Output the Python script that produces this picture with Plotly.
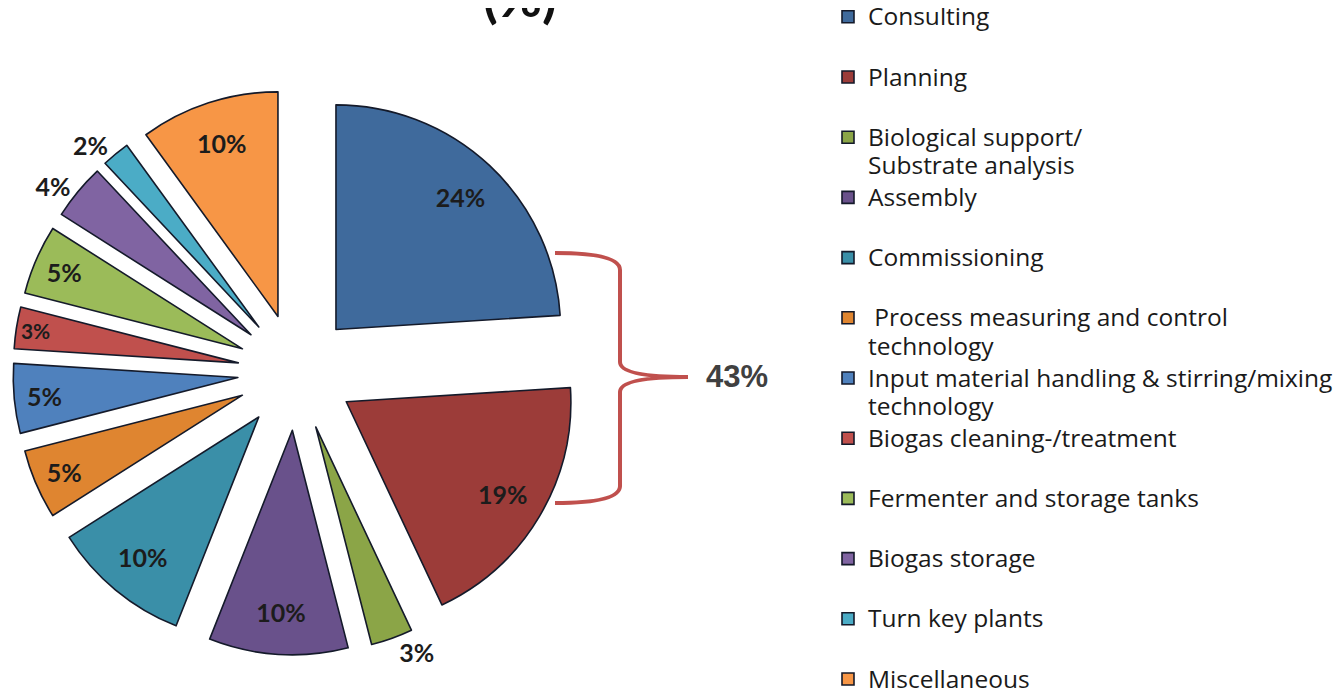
import plotly.graph_objects as go

# Datos del grafico
categorias = [
    "Consulting", "Planning", "Biological support/<br>Substrate analysis", "Assembly",
    "Commissioning", " Process measuring and control<br>technology",
    "Input material handling & stirring/mixing<br>technology",
    "Biogas cleaning-/treatment", "Fermenter and storage tanks", "Biogas storage",
    "Turn key plants", "Miscellaneous",
]
porcentajes = [24, 19, 3, 10, 10, 5, 5, 3, 5, 4, 2, 10]
colores = ["#3f6a9c", "#9c3c39", "#8ba547", "#69518b", "#3a8fa8", "#df8530",
           "#4f81bd", "#c0504d", "#9bbb59", "#8064a2", "#4bacc6", "#f79646"]
posicion_texto = ["inside", "inside", "outside", "inside", "inside", "inside",
                  "inside", "inside", "inside", "outside", "outside", "inside"]

W, H = 1342, 688
OFF = 8  # margen del body de la pagina


def fx(x):
    return (x - OFF) / W


def fy(y):
    return 1 - (y - OFF) / H


# leyenda: letra mas grande dentro de un span, el interlineado sigue al tamano base
def etiqueta(c, ultima):
    lineas = c.split("<br>")
    if len(lineas) == 1 and not ultima:
        lineas.append(" ")
    return "<br>".join(f'<span style="font-size:24.5px">{l}</span>' for l in lineas)


etiquetas = [etiqueta(c, i == len(categorias) - 1) for i, c in enumerate(categorias)]
dominio = dict(x=[fx(13), fx(579)], y=[fy(655), fy(89)])

fig = go.Figure()
fig.add_trace(go.Pie(
    labels=etiquetas, values=porcentajes, sort=False, direction="clockwise", rotation=0,
    pull=0.26, marker=dict(colors=colores, line=dict(color="#141a2a", width=1.6)),
    textinfo="none", domain=dominio,
))

# misma torta como anillo transparente, solo para llevar los textos hacia el borde
fig.add_trace(go.Pie(
    labels=etiquetas, values=porcentajes, sort=False, direction="clockwise", rotation=0,
    pull=0.26, hole=0.62, showlegend=False, hoverinfo="skip",
    marker=dict(colors=["rgba(0,0,0,0)"] * len(porcentajes), line=dict(width=0)),
    texttemplate="<b>%{value}%</b>", textposition=posicion_texto,
    insidetextorientation="horizontal",
    textfont=dict(family="Lato", size=25, color="#1c1c1c"),
    domain=dominio,
))

# llave roja que agrupa Consulting + Planning
def px(x, y):
    return f"{fx(x):.5f},{fy(y):.5f}"

llave = (f"M {px(555, 253)} Q {px(620, 253)} {px(620, 270)} L {px(620, 362)} "
         f"Q {px(620, 377)} {px(688, 377)} Q {px(620, 377)} {px(620, 392)} "
         f"L {px(620, 486)} Q {px(620, 503)} {px(555, 503)}")
fig.add_shape(type="path", path=llave, xref="paper", yref="paper",
              line=dict(color="#c0504d", width=4))

fig.add_annotation(x=fx(737), y=fy(377), xref="paper", yref="paper",
                   text="<b>43%</b>", showarrow=False,
                   font=dict(family="Liberation Sans", size=31, color="#404040"))

# titulo cortado arriba
fig.add_annotation(x=fx(520), y=fy(31), xref="paper", yref="paper", yanchor="bottom",
                   text="<b>(%)</b>", showarrow=False,
                   font=dict(family="Lato", size=54, color="#111111"))

fig.update_layout(
    width=W, height=H,
    margin=dict(l=0, r=0, t=0, b=0, autoexpand=False),
    paper_bgcolor="white", plot_bgcolor="white",
    showlegend=True,
    legend=dict(x=fx(828), y=fy(-4), xanchor="left", yanchor="top", valign="top",
                font=dict(family="Open Sans", size=22, color="#1a1a1a"),
                traceorder="normal", itemclick=False, maxheight=900),
)

fig.write_html("out.html")
